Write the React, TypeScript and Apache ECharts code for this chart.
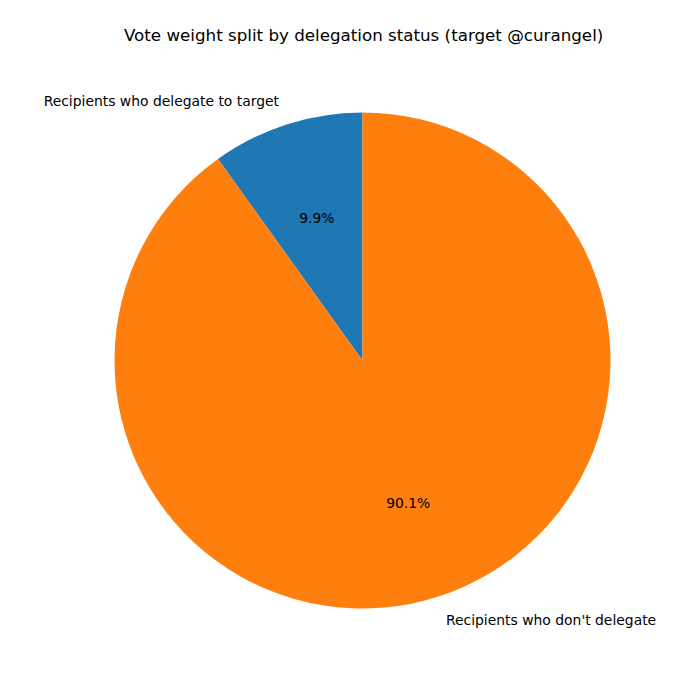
import { useEffect, useRef } from 'react'
import * as echarts from 'echarts'

const chartTitle = 'Vote weight split by delegation status (target @curangel)'
const categories = ['Recipients who delegate to target', "Recipients who don't delegate"]
const shares = [9.9, 90.1]
const colors = ['#1f77b4', '#ff7f0e']

const FONT = 'DejaVu Sans, sans-serif'
const CX = 362.5
const CY = 360.5
const R = 248

export default function App() {
  const elRef = useRef<HTMLDivElement | null>(null)

  useEffect(() => {
    document.body.style.margin = '0'
    if (!elRef.current) return
    const chart = echarts.init(elRef.current, null, { renderer: 'svg' })
    const data = categories.map((name, i) => ({ name, value: shares[i], itemStyle: { color: colors[i] } }))

    chart.setOption({
      animation: false,
      backgroundColor: '#ffffff',
      title: {
        text: chartTitle,
        left: 119,
        top: 20,
        textStyle: { fontFamily: FONT, fontSize: 16.7, fontWeight: 'normal', color: '#000', lineHeight: 20 },
      },
      series: [
        {
          // wedges + outer category labels at 1.1 r
          type: 'pie',
          center: [CX, CY],
          radius: [0, R],
          startAngle: 90,
          clockwise: false,
          silent: true,
          avoidLabelOverlap: false,
          data,
          label: {
            show: true,
            position: 'outside',
            formatter: '{b}',
            distanceToLabelLine: 0,
            fontFamily: FONT,
            fontSize: 13.9,
            color: '#000',
          },
          labelLine: { show: false, length: R * 0.1, length2: 0 },
          itemStyle: { borderWidth: 0 },
        },
        {
          // transparent ring so the percentage labels sit near 0.6 r
          type: 'pie',
          center: [CX, CY],
          radius: [R * 0.2 - 5, R],
          startAngle: 90,
          clockwise: false,
          silent: true,
          avoidLabelOverlap: false,
          data: data.map((d) => ({ ...d, itemStyle: { color: 'rgba(0,0,0,0)' } })),
          label: {
            show: true,
            position: 'inside',
            formatter: (p: any) => `${p.percent.toFixed(1)}%`,
            fontFamily: FONT,
            fontSize: 13.9,
            color: '#000',
          },
          labelLine: { show: false },
          itemStyle: { borderWidth: 0 },
        },
      ],
    } as echarts.EChartsOption)

    return () => {
      chart.dispose()
    }
  }, [])

  return <div ref={elRef} style={{ width: 700, height: 700 }} />
}
